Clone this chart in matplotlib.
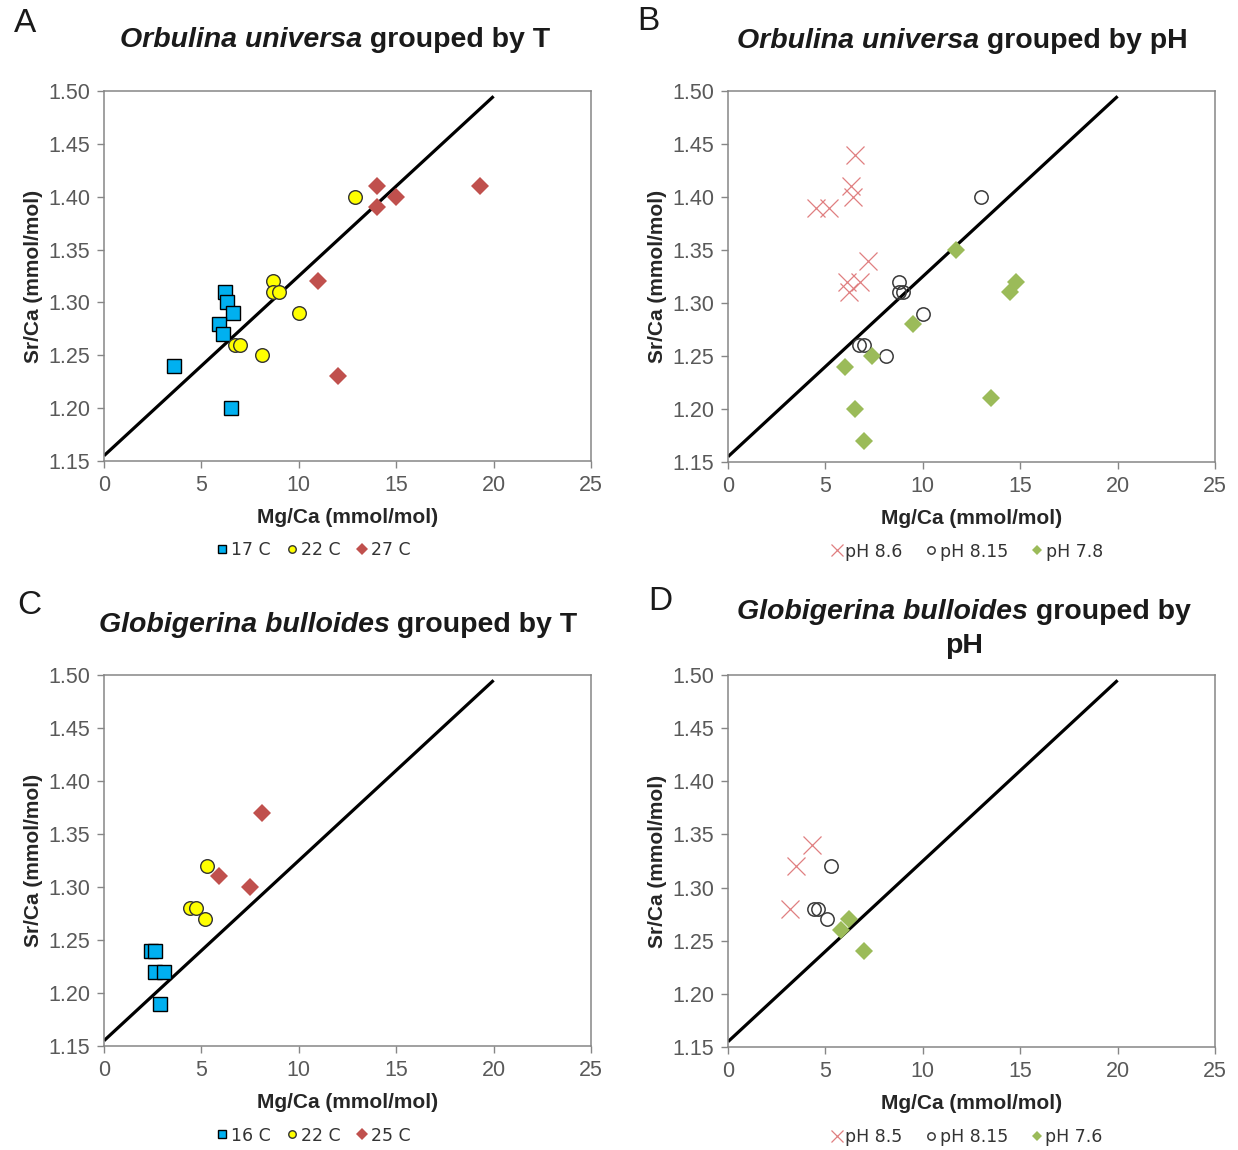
import matplotlib.pyplot as plt

plt.rcParams['font.family'] = ['Liberation Sans', 'DejaVu Sans']

# reference line drawn in every panel
ref_x = [0, 20]
ref_y = [1.155, 1.495]

# A: Orbulina universa, grouped by temperature
ou_t17_mg = [3.6, 6.2, 6.3, 6.6, 5.9, 6.1, 6.5]
ou_t17_sr = [1.24, 1.31, 1.30, 1.29, 1.28, 1.27, 1.20]
ou_t22_mg = [12.9, 8.7, 8.7, 9.0, 10.0, 6.7, 7.0, 8.1]
ou_t22_sr = [1.40, 1.32, 1.31, 1.31, 1.29, 1.26, 1.26, 1.25]
ou_t27_mg = [14.0, 15.0, 14.0, 19.3, 11.0, 12.0]
ou_t27_sr = [1.41, 1.40, 1.39, 1.41, 1.32, 1.23]

# B: Orbulina universa, grouped by pH
ou_ph86_mg = [6.5, 6.3, 6.4, 4.5, 5.2, 7.2, 6.1, 6.8, 6.2]
ou_ph86_sr = [1.44, 1.41, 1.40, 1.39, 1.39, 1.34, 1.32, 1.32, 1.31]
ou_ph815_mg = [13.0, 8.8, 8.8, 9.0, 10.0, 6.7, 7.0, 8.1]
ou_ph815_sr = [1.40, 1.32, 1.31, 1.31, 1.29, 1.26, 1.26, 1.25]
ou_ph78_mg = [11.7, 14.8, 14.5, 9.5, 7.4, 6.0, 6.5, 7.0, 13.5]
ou_ph78_sr = [1.35, 1.32, 1.31, 1.28, 1.25, 1.24, 1.20, 1.17, 1.21]

# C: Globigerina bulloides, grouped by temperature
gb_t16_mg = [2.4, 2.6, 2.6, 3.1, 2.9]
gb_t16_sr = [1.24, 1.24, 1.22, 1.22, 1.19]
gb_t22_mg = [5.3, 4.4, 4.7, 5.2]
gb_t22_sr = [1.32, 1.28, 1.28, 1.27]
gb_t25_mg = [8.1, 5.9, 7.5]
gb_t25_sr = [1.37, 1.31, 1.30]

# D: Globigerina bulloides, grouped by pH
gb_ph85_mg = [4.3, 3.5, 3.2]
gb_ph85_sr = [1.34, 1.32, 1.28]
gb_ph815_mg = [5.3, 4.4, 4.6, 5.1]
gb_ph815_sr = [1.32, 1.28, 1.28, 1.27]
gb_ph76_mg = [6.2, 5.8, 7.0]
gb_ph76_sr = [1.27, 1.26, 1.24]

SQUARE = dict(marker='s', ms=10.5, mfc='#00B0F0', mec='black', mew=1.0)
CIRCLE = dict(marker='o', ms=9.8, mfc='#FFFF00', mec='#333333', mew=1.0)
RED_DIAMOND = dict(marker='D', ms=9.6, mfc='#C0504D', mec='#C0504D', mew=0)
CROSS = dict(marker='x', ms=13.5, mec='#E07F80', mew=0.9)
OPEN_CIRCLE = dict(marker='o', ms=9.6, mfc='none', mec='#3A3A3A', mew=1.1)
GREEN_DIAMOND = dict(marker='D', ms=8.8, mfc='#9BBB59', mec='#9BBB59', mew=0)

GRAY = '#868686'
TICK_COLOR = '#595959'


def legend_style(style):
    small = dict(style)
    scale = {'s': 0.6, 'o': 0.55, 'D': 0.6, 'x': 0.65}[style['marker']]
    small['ms'] = style['ms'] * scale
    return small


def draw_panel(ax, groups, legend_x, col_gap):
    ax.plot(ref_x, ref_y, color='black', lw=2.3, solid_capstyle='butt', zorder=2)
    handles = []
    for mg, sr, label, style in groups:
        ax.plot(mg, sr, ls='none', zorder=3, **style)
        h, = ax.plot([], [], ls='none', label=label, **legend_style(style))
        handles.append(h)

    ax.set_xlim(0, 25)
    ax.set_ylim(1.15, 1.50)
    ax.set_xticks(range(0, 26, 5))
    ax.set_yticks([1.15, 1.20, 1.25, 1.30, 1.35, 1.40, 1.45, 1.50])
    ax.yaxis.set_major_formatter(plt.FormatStrFormatter('%.2f'))
    for sp in ax.spines.values():
        sp.set_color(GRAY)
        sp.set_linewidth(1.1)
    ax.tick_params(direction='out', length=5, width=1.0, color=GRAY,
                   labelsize=15.5, labelcolor=TICK_COLOR, pad=5)
    ax.set_xlabel('Mg/Ca (mmol/mol)', fontsize=15, fontweight='bold',
                  color='#262626', labelpad=9)
    ax.set_ylabel('Sr/Ca (mmol/mol)', fontsize=15, fontweight='bold',
                  color='#262626', labelpad=4)
    ax.legend(handles=handles, loc='upper center', bbox_to_anchor=(legend_x, -0.175),
              ncol=3, frameon=False, handlelength=0.7, handletextpad=0.15,
              columnspacing=col_gap, prop={'family': 'DejaVu Sans', 'size': 12.5},
              labelcolor='#333333')


def species_title(fig, cx, y, species, rest, size=20.5):
    # italic species name followed by plain bold text, centred on cx
    t1 = fig.text(cx, y, species, fontsize=size, fontweight='bold',
                  style='italic', ha='left', va='center', color='#1a1a1a')
    t2 = fig.text(cx, y, rest, fontsize=size, fontweight='bold',
                  ha='left', va='center', color='#1a1a1a')
    r = fig.canvas.get_renderer()
    w1 = t1.get_window_extent(r).width
    w2 = t2.get_window_extent(r).width
    fw = fig.get_figwidth() * fig.dpi
    x0 = cx - (w1 + w2) / 2 / fw
    t1.set_x(x0)
    t2.set_x(x0 + w1 / fw)


fig = plt.figure(figsize=(12.38, 11.5), dpi=100)

W, H = 1238, 1150
ax_a = fig.add_axes([104 / W, 1 - 461 / H, 487 / W, 370 / H])
ax_b = fig.add_axes([728 / W, 1 - 462 / H, 487 / W, 371 / H])
ax_c = fig.add_axes([104 / W, 1 - 1046 / H, 487 / W, 371 / H])
ax_d = fig.add_axes([728 / W, 1 - 1047 / H, 487 / W, 372 / H])

draw_panel(ax_a, [(ou_t17_mg, ou_t17_sr, '17 C', SQUARE),
                  (ou_t22_mg, ou_t22_sr, '22 C', CIRCLE),
                  (ou_t27_mg, ou_t27_sr, '27 C', RED_DIAMOND)], 0.43, 0.9)
draw_panel(ax_b, [(ou_ph86_mg, ou_ph86_sr, 'pH 8.6', CROSS),
                  (ou_ph815_mg, ou_ph815_sr, 'pH 8.15', OPEN_CIRCLE),
                  (ou_ph78_mg, ou_ph78_sr, 'pH 7.8', GREEN_DIAMOND)], 0.49, 1.3)
draw_panel(ax_c, [(gb_t16_mg, gb_t16_sr, '16 C', SQUARE),
                  (gb_t22_mg, gb_t22_sr, '22 C', CIRCLE),
                  (gb_t25_mg, gb_t25_sr, '25 C', RED_DIAMOND)], 0.43, 0.9)
draw_panel(ax_d, [(gb_ph85_mg, gb_ph85_sr, 'pH 8.5', CROSS),
                  (gb_ph815_mg, gb_ph815_sr, 'pH 8.15', OPEN_CIRCLE),
                  (gb_ph76_mg, gb_ph76_sr, 'pH 7.6', GREEN_DIAMOND)], 0.49, 1.3)

species_title(fig, 335 / W, 1 - 40 / H, 'Orbulina universa', ' grouped by T')
species_title(fig, 962 / W, 1 - 41 / H, 'Orbulina universa', ' grouped by pH')
species_title(fig, 338 / W, 1 - 625 / H, 'Globigerina bulloides', ' grouped by T')
species_title(fig, 964 / W, 1 - 612 / H, 'Globigerina bulloides', ' grouped by')
fig.text(964 / W, 1 - 646 / H, 'pH', fontsize=20.5, fontweight='bold',
         ha='center', va='center', color='#1a1a1a')

for letter, x, y in [('A', 25, 24), ('B', 648, 22), ('C', 29, 606), ('D', 660, 601)]:
    fig.text(x / W, 1 - y / H, letter, fontsize=24, ha='center', va='center',
             color='#1a1a1a')

fig.savefig('out.png', dpi=100)
